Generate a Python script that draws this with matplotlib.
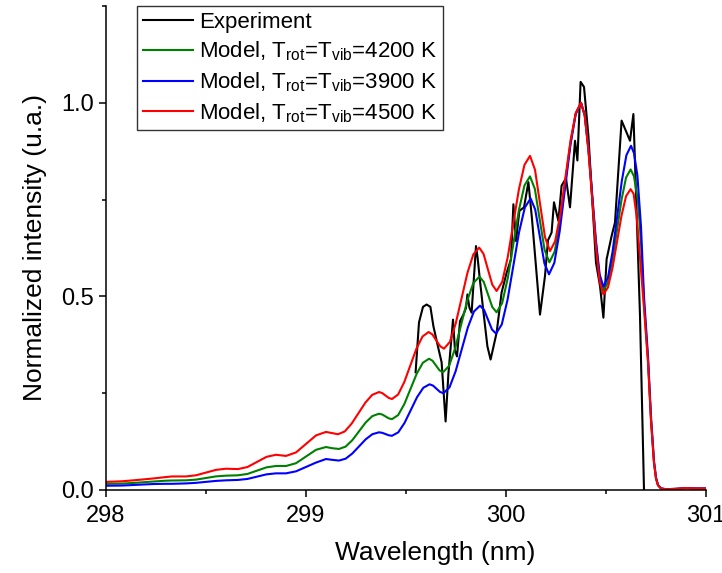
import matplotlib
matplotlib.use("Agg")
import matplotlib.pyplot as plt
from matplotlib.ticker import MultipleLocator, FormatStrFormatter

plt.rcParams['font.family'] = ['Liberation Sans', 'DejaVu Sans']
plt.rcParams['mathtext.default'] = 'regular'

# ---------------- data ----------------
exp_wl = [299.548, 299.565, 299.585, 299.603, 299.622, 299.637, 299.66, 299.678,
          299.698, 299.712, 299.735, 299.745, 299.755, 299.770, 299.787, 299.800,
          299.807, 299.817, 299.828, 299.850, 299.858, 299.870, 299.885, 299.907,
          299.923, 299.953, 299.978, 300.003, 300.025, 300.037, 300.050, 300.067,
          300.090, 300.112, 300.130, 300.170, 300.195, 300.210, 300.228, 300.240,
          300.262, 300.278, 300.300, 300.320, 300.345, 300.357, 300.373, 300.390,
          300.412, 300.450, 300.470, 300.487, 300.503, 300.528, 300.545, 300.578,
          300.620, 300.637, 300.670, 300.690]
exp_int = [0.304, 0.433, 0.473, 0.479, 0.473, 0.423, 0.370, 0.330,
           0.177, 0.300, 0.440, 0.360, 0.345, 0.436, 0.453, 0.470,
           0.505, 0.471, 0.458, 0.630, 0.600, 0.540, 0.470, 0.371,
           0.337, 0.406, 0.510, 0.561, 0.596, 0.738, 0.643, 0.721,
           0.730, 0.795, 0.700, 0.453, 0.553, 0.645, 0.665, 0.743,
           0.695, 0.786, 0.805, 0.730, 0.902, 0.851, 1.054, 1.041,
           0.915, 0.587, 0.527, 0.445, 0.596, 0.656, 0.691, 0.954,
           0.902, 0.971, 0.450, 0.000]

tail_wl = [300.80, 300.85, 300.90, 300.95, 301.00]
tail_int = [0.002, 0.003, 0.005, 0.004, 0.004]

wl_4500 = [298.00, 298.08, 298.16, 298.24, 298.30, 298.33, 298.40, 298.45, 298.50,
           298.55, 298.60, 298.66, 298.7075, 298.755, 298.8025, 298.85, 298.875,
           298.90, 298.95, 299.00, 299.05, 299.10, 299.13, 299.16, 299.194, 299.228,
           299.2625, 299.297, 299.331, 299.365, 299.381, 299.3975, 299.414, 299.43,
           299.4605, 299.491, 299.5215, 299.552, 299.5825, 299.613, 299.632, 299.651,
           299.671, 299.69, 299.7193, 299.7487, 299.778, 299.8073, 299.8367, 299.866,
           299.8878, 299.9095, 299.9313, 299.953, 299.9808, 300.0087, 300.0365,
           300.0643, 300.0922, 300.12, 300.145, 300.17, 300.195, 300.22, 300.2458,
           300.2717, 300.2975, 300.3233, 300.3492, 300.375, 300.3937, 300.4123,
           300.431, 300.4497, 300.4683, 300.487, 300.5097, 300.5323, 300.555,
           300.5777, 300.6003, 300.623, 300.638, 300.653, 300.67, 300.69, 300.71,
           300.725, 300.74, 300.75, 300.76, 300.775]
int_4500 = [0.021, 0.0225, 0.026, 0.030, 0.0335, 0.035, 0.035, 0.038, 0.045,
            0.052, 0.055, 0.054, 0.0594, 0.0725, 0.0856, 0.091, 0.0895,
            0.088, 0.097, 0.119, 0.141, 0.150, 0.147, 0.144, 0.1513, 0.1713,
            0.1985, 0.2258, 0.2457, 0.253, 0.2504, 0.244, 0.2377, 0.235,
            0.2466, 0.2783, 0.3215, 0.3648, 0.3964, 0.408, 0.4017, 0.3865,
            0.3713, 0.365, 0.3825, 0.4303, 0.4955, 0.5608, 0.6085, 0.626,
            0.6096, 0.570, 0.5304, 0.514, 0.5374, 0.6013, 0.6885,
            0.7758, 0.8396, 0.863, 0.8271, 0.740, 0.6529, 0.617, 0.6427,
            0.7128, 0.8085, 0.9043, 0.9743, 1.000, 0.9668, 0.8763,
            0.7525, 0.6288, 0.5382, 0.505, 0.5232, 0.573, 0.641,
            0.709, 0.7588, 0.777, 0.765, 0.708, 0.600, 0.470, 0.330,
            0.180, 0.070, 0.030, 0.012, 0.004]

wl_4200 = [298.00, 298.08, 298.16, 298.24, 298.30, 298.33, 298.40, 298.45, 298.50,
           298.55, 298.60, 298.66, 298.7075, 298.755, 298.8025, 298.85, 298.875,
           298.90, 298.95, 299.00, 299.05, 299.10, 299.13, 299.165, 299.1983,
           299.2317, 299.265, 299.2983, 299.3317, 299.365, 299.381, 299.3975,
           299.414, 299.43, 299.4608, 299.4917, 299.5225, 299.5533, 299.5842,
           299.615, 299.6325, 299.65, 299.6675, 299.685, 299.7153, 299.7457,
           299.776, 299.8063, 299.8367, 299.867, 299.8885, 299.91, 299.9315,
           299.953, 299.9808, 300.0087, 300.0365, 300.0643, 300.0922, 300.12,
           300.1443, 300.1685, 300.1928, 300.217, 300.2433, 300.2697, 300.296,
           300.3223, 300.3487, 300.375, 300.3937, 300.4123, 300.431, 300.4497,
           300.4683, 300.487, 300.5097, 300.5323, 300.555, 300.5777, 300.6003,
           300.623, 300.64, 300.66, 300.675, 300.69, 300.71, 300.725, 300.74,
           300.75, 300.76, 300.775]
int_4200 = [0.016, 0.0165, 0.019, 0.022, 0.024, 0.0245, 0.025, 0.0268, 0.031,
            0.0352, 0.037, 0.038, 0.0415, 0.050, 0.0585, 0.062, 0.0622,
            0.062, 0.0692, 0.0865, 0.1038, 0.111, 0.108, 0.106, 0.1121,
            0.1288, 0.1515, 0.1743, 0.1909, 0.197, 0.195, 0.190,
            0.185, 0.183, 0.1935, 0.222, 0.261, 0.300, 0.3286,
            0.339, 0.3339, 0.3215, 0.3091, 0.304, 0.3205, 0.3658,
            0.4275, 0.4893, 0.5345, 0.551, 0.5376, 0.505, 0.4724,
            0.459, 0.4825, 0.5468, 0.6345, 0.7223, 0.7865, 0.810,
            0.7776, 0.699, 0.6204, 0.588, 0.6156, 0.691, 0.794,
            0.897, 0.9724, 1.000, 0.9675, 0.8788, 0.7575, 0.6363,
            0.5475, 0.515, 0.536, 0.5933, 0.6715, 0.7498, 0.807,
            0.828, 0.810, 0.745, 0.640, 0.480, 0.335, 0.180, 0.070,
            0.030, 0.012, 0.004]

wl_3900 = [298.00, 298.08, 298.16, 298.24, 298.30, 298.33, 298.40, 298.45, 298.50,
           298.55, 298.60, 298.66, 298.7075, 298.755, 298.8025, 298.85, 298.875,
           298.90, 298.95, 299.00, 299.05, 299.10, 299.13, 299.165, 299.1983,
           299.2317, 299.265, 299.2983, 299.3317, 299.365, 299.381, 299.3975,
           299.414, 299.43, 299.4613, 299.4927, 299.524, 299.5553, 299.5867,
           299.618, 299.6353, 299.6525, 299.6698, 299.687, 299.7175, 299.748,
           299.7785, 299.809, 299.8395, 299.87, 299.89, 299.91, 299.93, 299.95,
           299.9788, 300.0077, 300.0365, 300.0653, 300.0942, 300.123, 300.146,
           300.169, 300.192, 300.215, 300.2417, 300.2683, 300.295, 300.3217,
           300.3483, 300.375, 300.3937, 300.4123, 300.431, 300.4497, 300.4683,
           300.487, 300.51, 300.533, 300.556, 300.579, 300.602, 300.625, 300.64,
           300.657, 300.675, 300.69, 300.71, 300.725, 300.74, 300.75, 300.76,
           300.775]
int_3900 = [0.011, 0.0115, 0.0135, 0.0155, 0.016, 0.016, 0.017, 0.0185, 0.021,
            0.0235, 0.025, 0.026, 0.0286, 0.0345, 0.0404, 0.043, 0.043,
            0.043, 0.0482, 0.0595, 0.0708, 0.080, 0.078, 0.076, 0.0809,
            0.0943, 0.1125, 0.1308, 0.1441, 0.149, 0.1477, 0.1445,
            0.1413, 0.140, 0.1489, 0.1733, 0.2065, 0.2398, 0.2641,
            0.273, 0.2696, 0.2615, 0.2534, 0.250, 0.2651, 0.3065,
            0.363, 0.4195, 0.4609, 0.476, 0.4655, 0.440, 0.4145, 0.404,
            0.4274, 0.4913, 0.5785, 0.6658, 0.7296, 0.753, 0.7244,
            0.655, 0.5856, 0.557, 0.5867, 0.6678, 0.7785, 0.8893,
            0.9703, 1.000, 0.9682, 0.8813, 0.7625, 0.6438, 0.5568,
            0.525, 0.5494, 0.616, 0.707, 0.798, 0.8646, 0.889, 0.870,
            0.812, 0.680, 0.500, 0.345, 0.190, 0.075, 0.032, 0.013,
            0.004]

labels = ["Experiment",
          r"Model, T$_{rot}$=T$_{vib}$=4200 K",
          r"Model, T$_{rot}$=T$_{vib}$=3900 K",
          r"Model, T$_{rot}$=T$_{vib}$=4500 K"]

x_ticks = [298, 299, 300, 301]
y_ticks = [0.0, 0.5, 1.0]

# ---------------- figure ----------------
fig = plt.figure(figsize=(7.22, 5.73), dpi=100)
ax = fig.add_axes([106/722, (573-490)/573, 600/722, 484/573])

lw = 1.5
l_exp, = ax.plot(exp_wl, exp_int, color='black', lw=lw, label=labels[0])
l_42, = ax.plot(wl_4200 + tail_wl, int_4200 + tail_int, color='#008000', lw=lw,
                label=labels[1])
l_39, = ax.plot(wl_3900 + tail_wl, int_3900 + tail_int, color='#0000ff', lw=lw,
                label=labels[2])
l_45, = ax.plot(wl_4500 + tail_wl, int_4500 + tail_int, color='#ff0000', lw=lw,
                label=labels[3])

ax.set_xlim(298, 301)
ax.set_ylim(0, 1.25)
ax.set_xticks(x_ticks)
ax.set_yticks(y_ticks)
ax.xaxis.set_minor_locator(MultipleLocator(0.5))
ax.yaxis.set_minor_locator(MultipleLocator(0.25))
ax.yaxis.set_major_formatter(FormatStrFormatter('%.1f'))

for s in ['top', 'right']:
    ax.spines[s].set_visible(False)
for s in ['left', 'bottom']:
    ax.spines[s].set_linewidth(1.1)

ax.tick_params(axis='both', which='major', direction='out', length=5, width=1.1,
               labelsize=17, pad=6)
ax.tick_params(axis='both', which='minor', direction='out', length=3, width=1.1)
ax.tick_params(axis='y', which='major', pad=4)

ax.set_xlabel("Wavelength (nm)", fontsize=19)
ax.xaxis.set_label_coords(0.549, -0.105)
ax.set_ylabel("Normalized intensity (u.a.)", fontsize=19, labelpad=10)

leg = ax.legend(handles=[l_exp, l_42, l_39, l_45], loc='upper left',
                bbox_to_anchor=(0.052, 1.0), borderaxespad=0, fontsize=16,
                frameon=True, fancybox=False, edgecolor='black',
                handlelength=2.25, handletextpad=0.3, borderpad=0.25,
                labelspacing=0.32)
leg.get_frame().set_linewidth(1.0)

fig.savefig("out.png", dpi=100)
